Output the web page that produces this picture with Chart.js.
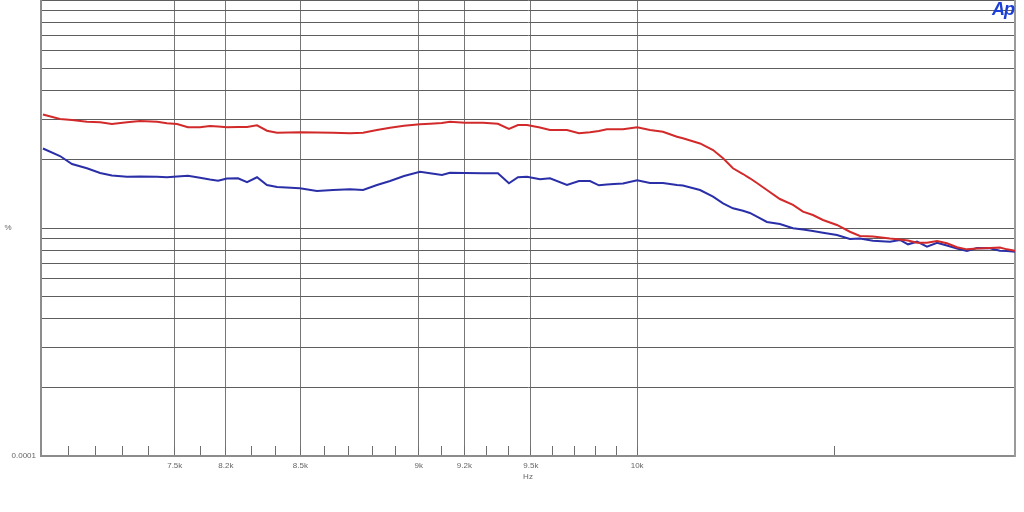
<!DOCTYPE html>
<html>
<head>
<meta charset="utf-8">
<script src="https://cdn.jsdelivr.net/npm/chart.js@4.4.1/dist/chart.umd.min.js"></script>
<style>
  html, body { margin: 0; padding: 0; background: #ffffff; }
  #wrap { position: relative; width: 1024px; height: 512px; }
  #logo { position: absolute; left: 992px; top: -1px; font: italic bold 18px "Liberation Sans", Arial, sans-serif; color: #1c3fd6; letter-spacing: -1px; }
</style>
</head>
<body>
<div id="wrap">
  <canvas id="c" width="1024" height="512"></canvas>
  <div id="logo">Ap</div>
</div>
<script>
// Frequencies (Hz)
const freqHz = [7507, 7569, 7613, 7668, 7717, 7761, 7818, 7867, 7932, 7970,
  8009, 8051, 8098, 8137, 8169, 8204, 8248, 8284, 8324, 8364,
  8405, 8498, 8568, 8635, 8706, 8761, 8820, 8876, 8936, 9005,
  9049, 9101, 9136, 9203, 9283, 9350, 9400, 9441, 9482, 9542,
  9588, 9667, 9723, 9775, 9817, 9855, 9889, 9932, 10000, 10062,
  10125, 10194, 10223, 10308, 10373, 10423, 10473, 10524, 10559, 10595,
  10646, 10713, 10781, 10833, 10885, 10938, 11012, 11081, 11135, 11205,
  11297, 11352, 11396, 11446, 11501, 11557, 11612, 11669, 11725, 11782,
  11856, 11913, 11954, 12000];

// Red trace (%)
const redPct = [0.003146, 0.003007, 0.002976, 0.002926, 0.002908, 0.002859, 0.002908, 0.002947, 0.002926, 0.002879,
  0.002859, 0.002765, 0.002765, 0.002801, 0.002787, 0.002765, 0.002773, 0.002773, 0.002821, 0.002672,
  0.002618, 0.002629, 0.002623, 0.002618, 0.002602, 0.002615, 0.002690, 0.002754, 0.002807, 0.002853,
  0.002867, 0.002888, 0.002926, 0.002896, 0.002896, 0.002864, 0.002718, 0.002830, 0.002830, 0.002759,
  0.002690, 0.002690, 0.002602, 0.002629, 0.002663, 0.002710, 0.002710, 0.002710, 0.002765, 0.002690,
  0.002645, 0.002514, 0.002474, 0.002348, 0.002198, 0.002022, 0.001828, 0.001725, 0.001652, 0.001575,
  0.001468, 0.001340, 0.001262, 0.001179, 0.001140, 0.001084, 0.001031, 0.000963, 0.000922, 0.000918,
  0.000899, 0.000890, 0.000881, 0.000862, 0.000862, 0.000877, 0.000857, 0.000823, 0.000806, 0.000813,
  0.000817, 0.000821, 0.000806, 0.000795];

// Blue trace (%)
const bluePct = [0.002232, 0.002069, 0.001909, 0.001828, 0.001743, 0.001699, 0.001679, 0.001682, 0.001679, 0.001669,
  0.001682, 0.001696, 0.001662, 0.001632, 0.001612, 0.001649, 0.001652, 0.001587, 0.001669, 0.001544,
  0.001513, 0.001493, 0.001453, 0.001468, 0.001478, 0.001468, 0.001544, 0.001607, 0.001691, 0.001766,
  0.001738, 0.001708, 0.001748, 0.001743, 0.001738, 0.001738, 0.001571, 0.001669, 0.001679, 0.001635,
  0.001652, 0.001544, 0.001607, 0.001607, 0.001539, 0.001552, 0.001560, 0.001567, 0.001619, 0.001575,
  0.001575, 0.001544, 0.001536, 0.001468, 0.001372, 0.001283, 0.001220, 0.001191, 0.001164, 0.001121,
  0.001063, 0.001041, 0.000997, 0.000985, 0.000970, 0.000954, 0.000932, 0.000895, 0.000899, 0.000880,
  0.000871, 0.000886, 0.000848, 0.000871, 0.000828, 0.000862, 0.000838, 0.000813, 0.000793, 0.000817,
  0.000815, 0.000795, 0.000793, 0.000787];

// X axis ticks
const xMajorTicks = [8000, 8200, 8500, 9000, 9200, 9500, 10000];
const xMajorLabels = ['7.5k', '8.2k', '8.5k', '9k', '9.2k', '9.5k', '10k'];
const xMinorTicks = [7600, 7700, 7800, 7900, 8100, 8300, 8400, 8600, 8700, 8800, 8900,
  9100, 9300, 9400, 9600, 9700, 9800, 9900, 11000];
const xRange = [7500, 12000];

// Y axis gridlines
const yGridTicks = [0.0001, 0.0002, 0.0003, 0.0004, 0.0005, 0.0006, 0.0007, 0.0008, 0.0009,
  0.001, 0.002, 0.003, 0.004, 0.005, 0.006, 0.007, 0.008, 0.009, 0.01];
const yLabelTicks = [0.0001];
const yLabels = ['0.0001'];
const yRange = [0.0001, 0.01];

const xTitle = 'Hz';
const yTitle = '%';

const allXTicks = xMinorTicks.concat(xMajorTicks).sort((a, b) => a - b);

const sideTextPlugin = {
  id: 'sideText',
  afterDraw(chart) {
    const ctx = chart.ctx;
    const a = chart.chartArea;
    ctx.save();
    ctx.font = '8px "Liberation Sans", Arial, sans-serif';
    ctx.fillStyle = '#666';
    ctx.textAlign = 'center';
    ctx.textBaseline = 'middle';
    ctx.fillText(yTitle, 8, (a.top + a.bottom) / 2);
    ctx.restore();
  }
};

function noVPad(scale) { scale.paddingTop = 0; scale.paddingBottom = 0; }

new Chart(document.getElementById('c'), {
  type: 'line',
  data: {
    datasets: [
      {
        label: 'Red',
        data: freqHz.map((f, i) => ({ x: f, y: redPct[i] })),
        borderColor: '#d22a2a',
        borderWidth: 2,
        pointRadius: 0,
        tension: 0,
        fill: false
      },
      {
        label: 'Blue',
        data: freqHz.map((f, i) => ({ x: f, y: bluePct[i] })),
        borderColor: '#2a2fa8',
        borderWidth: 2,
        pointRadius: 0,
        tension: 0,
        fill: false
      }
    ]
  },
  options: {
    responsive: false,
    animation: false,
    devicePixelRatio: 1,
    layout: { padding: { top: 0, right: 0, bottom: 0, left: 0 } },
    plugins: { legend: { display: false }, tooltip: { enabled: false } },
    scales: {
      x: {
        type: 'logarithmic',
        position: 'bottom',
        min: xRange[0],
        max: xRange[1],
        afterBuildTicks(scale) { scale.ticks = allXTicks.map(v => ({ value: v })); },
        afterFit(scale) { scale.height = 56; scale.paddingLeft = 0; scale.paddingRight = 0; },
        border: { display: true, color: '#8c8c8c', width: 2 },
        grid: {
          color: ctx => (ctx.tick && xMajorTicks.includes(ctx.tick.value)) ? '#777777' : 'rgba(0,0,0,0)',
          tickColor: '#6e6e6e',
          tickLength: -10,
          lineWidth: 1
        },
        ticks: {
          autoSkip: false,
          maxRotation: 0,
          minRotation: 0,
          padding: 15,
          color: '#666',
          font: { size: 8, family: '"Liberation Sans", Arial, sans-serif' },
          callback: (v) => { const i = xMajorTicks.indexOf(v); return i >= 0 ? xMajorLabels[i] : ''; }
        },
        title: {
          display: true,
          text: xTitle,
          color: '#666',
          font: { size: 8, family: '"Liberation Sans", Arial, sans-serif' },
          padding: { top: 30, bottom: 30 }
        }
      },
      y: {
        type: 'logarithmic',
        position: 'left',
        min: yRange[0],
        max: yRange[1],
        afterBuildTicks(scale) { scale.ticks = yGridTicks.map(v => ({ value: v })); },
        afterFit(scale) { scale.width = 41; noVPad(scale); },
        border: { display: true, color: '#8c8c8c', width: 2 },
        grid: { color: '#5e5e5e', lineWidth: 1, drawTicks: false },
        ticks: {
          autoSkip: false,
          padding: 5,
          color: '#666',
          font: { size: 8, family: '"Liberation Sans", Arial, sans-serif' },
          callback: (v) => { const i = yLabelTicks.indexOf(v); return i >= 0 ? yLabels[i] : ''; }
        }
      },
      yRight: {
        type: 'linear',
        position: 'right',
        min: 0,
        max: 1,
        afterFit(scale) { scale.width = 9; noVPad(scale); },
        border: { display: true, color: '#9a9a9a', width: 2 },
        grid: { display: false, drawTicks: false },
        ticks: { display: false }
      }
    }
  },
  plugins: [sideTextPlugin]
});
</script>
</body>
</html>
